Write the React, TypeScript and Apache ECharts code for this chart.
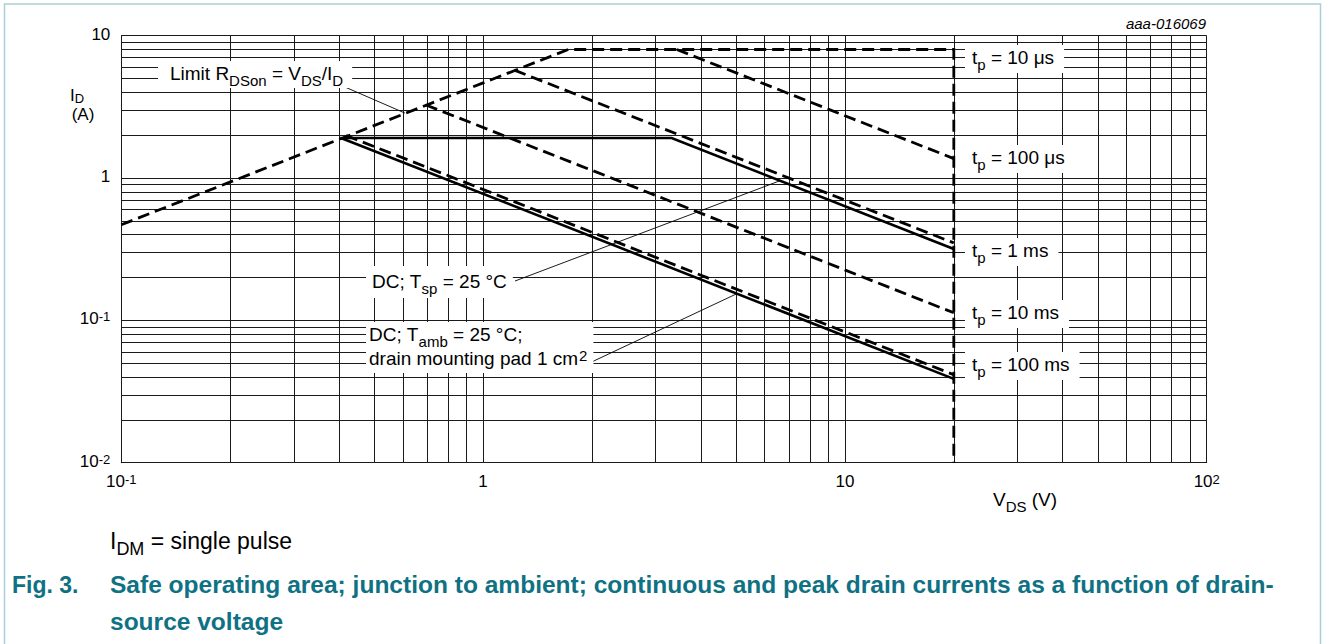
import React, { useEffect, useRef } from 'react';
import * as echarts from 'echarts';

const FONT = "'Liberation Sans', Arial, Helvetica, sans-serif";

// ---- Curves: [V_DS (V), I_D (A)] ----
const tp10us = [[0.1, 0.47], [1.72, 8.0], [20, 8.0], [20, 0.01]]; // R_DSon limit + 10 µs + V_DS max
const tp100us = [[3.43, 8.0], [20, 1.37]];
const tp1ms = [[1.22, 5.73], [20, 0.35]];
const tp10ms = [[0.695, 3.26], [20, 0.113]];
const tp100ms = [[0.418, 1.99], [20, 0.0415]];
const dcTsp = [[0.41, 1.91], [3.32, 1.91], [20, 0.317]];
const dcTamb = [[0.403, 1.92], [20, 0.0388]];

// ---- Leader lines (annotation pointers) ----
const leaderRdson = [[0.415, 4.36], [0.608, 2.86]];
const leaderTsp = [[1.225, 0.189], [6.62, 0.958]];
const leaderTamb = [[1.913, 0.0485], [5.03, 0.154]];

// ---- Grid values ----
const xDecades = [0.1, 1, 10];
const yDecades = [0.01, 0.1, 1];
const gridSteps = [1, 2, 3, 4, 5, 6, 7, 8, 9];
const xMax = 100;
const yMax = 10;

// ---- Texts ----
const captionFig = 'Fig. 3.';
const captionLine1 =
  'Safe operating area; junction to ambient; continuous and peak drain currents as a function of drain-';
const captionLine2 = 'source voltage';
const figCode = 'aaa-016069';

export default function App() {
  const ref = useRef<HTMLDivElement>(null);

  useEffect(() => {
    const chart = echarts.init(ref.current as HTMLDivElement, null, { renderer: 'svg' });

    const gridX: number[] = [];
    xDecades.forEach((d) => gridSteps.forEach((m) => gridX.push(+(d * m).toPrecision(6))));
    gridX.push(xMax);
    const gridY: number[] = [];
    yDecades.forEach((d) => gridSteps.forEach((m) => gridY.push(+(d * m).toPrecision(6))));
    gridY.push(yMax);

    const tickRich = {
      b: { fontFamily: FONT, fontSize: 17, lineHeight: 20, verticalAlign: 'top', color: '#000' },
      sup: { fontFamily: FONT, fontSize: 13, lineHeight: 6, verticalAlign: 'top', color: '#000' },
    };
    const tickFmt = (v: number) => {
      const e = Math.round(Math.log10(v));
      if (e === 0) return '{b|1}';
      if (e === 1) return '{b|10}';
      return '{b|10}{sup|' + e + '}';
    };

    const rich = {
      n: { fontFamily: FONT, fontSize: 19, lineHeight: 20, verticalAlign: 'top', fill: '#000' },
      m: { fontFamily: FONT, fontSize: 19, lineHeight: 23, verticalAlign: 'bottom', fill: '#000' },
      s: { fontFamily: FONT, fontSize: 15, lineHeight: 12, padding: [9, 0, 0, 0], verticalAlign: 'top', fill: '#000' },
      u: { fontFamily: FONT, fontSize: 15, lineHeight: 10, padding: [3, 0, 0, 1], verticalAlign: 'top', fill: '#000' },
    };
    const richName = {
      a: { fontFamily: FONT, fontSize: 17, lineHeight: 14, verticalAlign: 'top', fill: '#000' },
      b: { fontFamily: FONT, fontSize: 13, lineHeight: 10, padding: [5, 0, 0, 0], verticalAlign: 'top', fill: '#000' },
    };
    const rich2 = {
      n: { fontFamily: FONT, fontSize: 23, lineHeight: 24, verticalAlign: 'top', fill: '#000' },
      s: { fontFamily: FONT, fontSize: 18, lineHeight: 14, padding: [11, 0, 0, 0], verticalAlign: 'top', fill: '#000' },
    };

    const box = (x: number, y: number, text: string, padding: number[]) => ({
      type: 'text',
      x,
      y,
      z: 10,
      silent: true,
      style: {
        text,
        rich,
        fontFamily: FONT,
        fontSize: 19,
        fill: '#000',
        align: 'left',
        verticalAlign: 'top',
        backgroundColor: '#fff',
        padding,
      },
    });

    const plain = (x: number, y: number, text: string, extra: any, scaleX = 1) => ({
      type: 'text',
      x,
      y,
      scaleX,
      z: 10,
      silent: true,
      style: Object.assign(
        { text, fontFamily: FONT, fontSize: 19, fill: '#000', align: 'left', verticalAlign: 'top', rich },
        extra
      ),
    });

    const curve = (name: string, data: number[][], dashed: boolean, width = 2.8, z = 2) => ({
      type: 'line',
      name,
      data,
      symbol: 'none',
      showSymbol: false,
      silent: true,
      z,
      animation: false,
      lineStyle: {
        color: '#000',
        width,
        type: dashed ? [12, 6] : 'solid',
        cap: 'butt',
        join: 'miter',
      },
    });

    const gridSeries = {
      type: 'line',
      name: 'grid',
      data: [] as number[][],
      symbol: 'none',
      silent: true,
      z: 1,
      animation: false,
      markLine: {
        silent: true,
        z: 1,
        animation: false,
        symbol: ['none', 'none'],
        label: { show: false },
        lineStyle: { color: '#1a1a1a', width: 1, type: 'solid' },
        data: [
          ...gridX.map((v) => ({ xAxis: v })),
          ...gridY.map((v) => ({ yAxis: v })),
        ],
      },
    };

    const captionStyle = {
      verticalAlign: 'middle', fontSize: 23, fontWeight: 'bold', fill: '#0f7184', rich: undefined,
    };

    const option: any = {
      animation: false,
      grid: { left: 121.3, top: 35.7, width: 1085.4, height: 427, containLabel: false },
      xAxis: {
        type: 'log',
        logBase: 10,
        min: 0.1,
        max: xMax,
        axisLine: { show: true, lineStyle: { color: '#000', width: 1 } },
        axisTick: { show: false },
        splitLine: { show: false },
        minorTick: { show: false },
        axisLabel: { margin: 10, formatter: tickFmt, rich: tickRich, fontFamily: FONT, fontSize: 17, color: '#000' },
      },
      yAxis: {
        type: 'log',
        logBase: 10,
        min: 0.01,
        max: yMax,
        axisLine: { show: true, lineStyle: { color: '#000', width: 1 } },
        axisTick: { show: false },
        splitLine: { show: false },
        axisLabel: { margin: 11, formatter: tickFmt, rich: tickRich, fontFamily: FONT, fontSize: 17, color: '#000' },
      },
      series: [
        gridSeries,
        curve('tp = 10 µs', tp10us, true),
        curve('tp = 100 µs', tp100us, true),
        curve('tp = 1 ms', tp1ms, true),
        curve('tp = 10 ms', tp10ms, true),
        curve('tp = 100 ms', tp100ms, true),
        curve('DC; Tsp = 25 °C', dcTsp, false, 2.6),
        curve('DC; Tamb = 25 °C', dcTamb, false, 2.6),
        curve('leader Rdson', leaderRdson, false, 0.9, 3),
        curve('leader Tsp', leaderTsp, false, 0.9, 3),
        curve('leader Tamb', leaderTamb, false, 0.9, 3),
      ],
      graphic: [
        {
          type: 'rect',
          z: 0,
          silent: true,
          shape: { x: 4.5, y: 4, width: 1316, height: 700 },
          style: { fill: 'none', stroke: '#a9cfd8', lineWidth: 1.5 },
        },
        box(158, 61, '{n|Limit R}{s|DSon}{n| = V}{s|DS}{n|/I}{s|D}', [3, 9, 4, 12]),
        box(965, 45, '{n|t}{s|p}{n| = 10 μs}', [3, 10, 5, 7]),
        box(965, 145, '{n|t}{s|p}{n| = 100 μs}', [3, 10, 5, 7]),
        box(965, 238, '{n|t}{s|p}{n| = 1 ms}', [3, 10, 5, 7]),
        box(965, 300, '{n|t}{s|p}{n| = 10 ms}', [3, 10, 5, 7]),
        box(965, 352, '{n|t}{s|p}{n| = 100 ms}', [3, 10, 5, 7]),
        box(366, 266, '{n|DC; T}{s|sp}{n| = 25 °C}', [6, 6, 6, 6]),
        box(366, 322, '{n|DC; T}{s|amb}{n| = 25 °C;}\n{m|drain mounting pad 1 cm}{u|2}', [3, 6, 5, 3]),
        plain(77, 87, '{a|I}{b|D}', { align: 'center', rich: richName }),
        plain(83, 106, '{a|(A)}', { align: 'center', rich: richName }),
        plain(993, 490, '{n|V}{s|DS}{n| (V)}', {}),
        plain(1206, 23, figCode, { align: 'right', verticalAlign: 'middle', fontSize: 15, fontStyle: 'italic', rich: undefined }),
        plain(110, 529, '{n|I}{s|DM}{n| = single pulse}', { rich: rich2 }),
        plain(12, 585, captionFig, captionStyle),
        plain(110, 585, captionLine1, captionStyle, 1.067),
        plain(110, 622, captionLine2, captionStyle, 1.067),
      ],
    };

    chart.setOption(option);
    return () => chart.dispose();
  }, []);

  return (
    <div
      ref={ref}
      style={{ position: 'fixed', left: 0, top: 0, width: 1326, height: 644, background: '#fff' }}
    />
  );
}
